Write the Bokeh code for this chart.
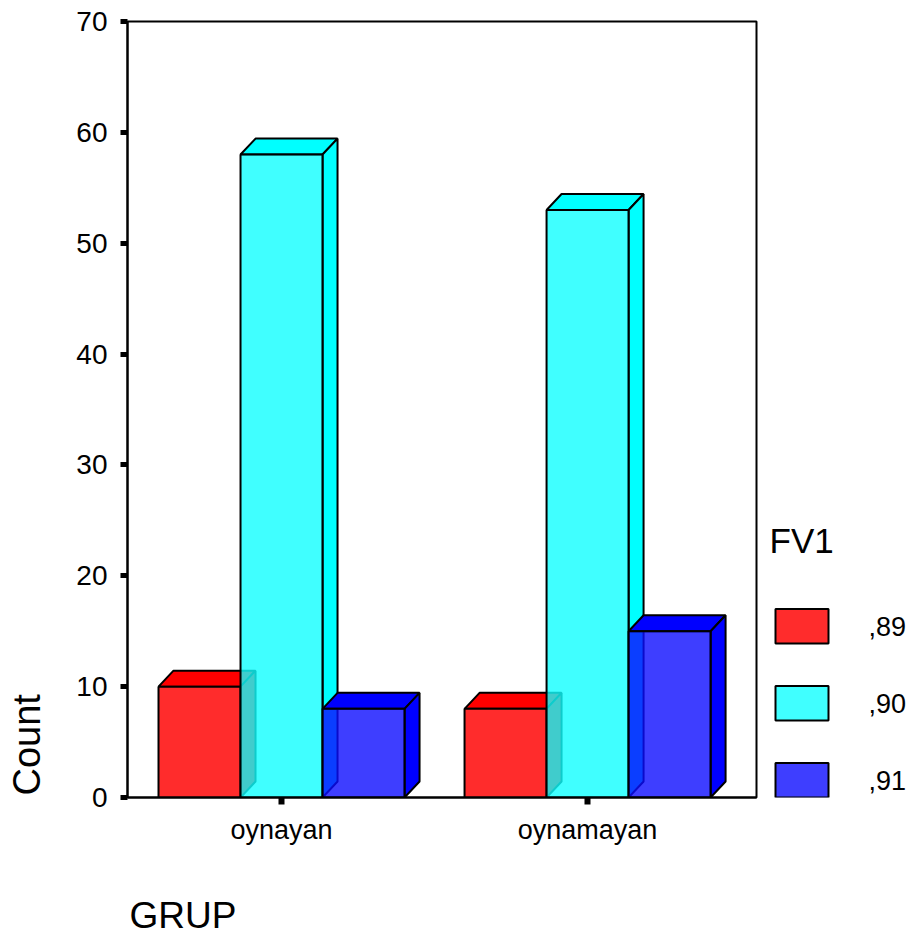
import math
from bokeh.plotting import figure
from bokeh.layouts import row
from bokeh.models import Range1d, FixedTicker, Title
from bokeh.core.properties import value
from bokeh.embed import file_html
from bokeh.resources import INLINE

# ---------------- data ----------------
categories = ["oynayan", "oynamayan"]
legend_title = "FV1"
series_labels = [",89", ",90", ",91"]
counts_89 = [10, 8]
counts_90 = [58, 53]
counts_91 = [8, 15]
y_ticks = [0, 10, 20, 30, 40, 50, 60, 70]
x_title = "GRUP"
y_title = "Count"

# ---------------- styling / layout ----------------
W, H = 914, 936
MAIN_W = 770
FL, FR, FT, FB = 127, 756, 21, 797          # frame edges in px
X0, X1 = 0.4967, 2.552
Y0, Y1 = 0, 70
FONT = "Liberation Sans"

legend_colors = ["#FF2C2C", "#40FFFF", "#3E3EFF"]
front_colors = ["#FF2C2C", "#10FFFF", "#0E0EFF"]
depth_colors = ["#FF0000", "#00FFFF", "#0000FF"]
front_alpha = [1.0, 0.8, 0.8]
bar_w = 0.268
dx, dy = 0.049, 1.44

p = figure(width=MAIN_W, height=H, output_backend="svg", toolbar_location=None, tools="",
           x_range=Range1d(X0, X1), y_range=Range1d(Y0, Y1),
           min_border_left=FL, min_border_right=MAIN_W - FR,
           min_border_top=FT, min_border_bottom=H - FB)
p.background_fill_color = "white"
p.border_fill_color = "white"
p.outline_line_color = "black"
p.outline_line_width = 2
p.outline_line_alpha = 1.0
p.grid.visible = False

# ---------------- bars (3D look) ----------------
offsets = [-bar_w, 0.0, bar_w]
all_series = [counts_89, counts_90, counts_91]
for k, vals in enumerate(all_series):
    xl = [i + 1 + offsets[k] - bar_w / 2 for i in range(len(categories))]
    xr = [x + bar_w for x in xl]
    top_xs = [[l, l + dx, r + dx, r] for l, r in zip(xl, xr)]
    top_ys = [[v, v + dy, v + dy, v] for v in vals]
    side_xs = [[r, r + dx, r + dx, r] for r in xr]
    side_ys = [[0, dy, v + dy, v] for v in vals]
    p.patches(top_xs + side_xs, top_ys + side_ys, fill_color=depth_colors[k],
              line_color="black", line_width=2)
    p.quad(left=xl, right=xr, bottom=[0] * len(vals), top=vals,
           fill_color=front_colors[k], fill_alpha=front_alpha[k],
           line_color="black", line_width=2)

# ---------------- axes ----------------
p.yaxis.ticker = FixedTicker(ticks=y_ticks)
p.xaxis.ticker = FixedTicker(ticks=[i + 1 for i in range(len(categories))])
p.xaxis.major_label_overrides = {i + 1: c for i, c in enumerate(categories)}
for ax in (p.xaxis, p.yaxis):
    ax.axis_line_color = "black"
    ax.axis_line_width = 2
    ax.major_tick_line_color = "black"
    ax.major_tick_in = 0
    ax.minor_tick_line_color = None
    ax.major_label_text_font = FONT
    ax.major_label_text_color = "black"
p.yaxis.major_tick_out = 7
p.yaxis.major_tick_line_width = 5
p.yaxis.major_label_standoff = 13
p.yaxis.major_label_text_font_size = "28px"
p.xaxis.major_tick_out = 7
p.xaxis.major_tick_line_width = 6
p.xaxis.major_label_standoff = 10
p.xaxis.major_label_text_font_size = "27px"

# ---------------- axis titles (with thin spacers between axis and title) ----------------
p.add_layout(Title(text=" ", text_font_size="1px", standoff=22), "left")
p.add_layout(Title(text=y_title, align="left", text_font=FONT, text_font_size="38px",
                   text_font_style="normal", text_color="black", standoff=2, offset=2), "left")
p.add_layout(Title(text=" ", text_font_size="1px", standoff=42), "below")
p.add_layout(Title(text=x_title, align="left", text_font=FONT, text_font_size="37px",
                   text_font_style="normal", text_color="black", standoff=0, offset=2), "below")

# ---------------- legend (separate panel, y measured in px from top) ----------------
LW = W - MAIN_W
lg = figure(width=LW, height=H, output_backend="svg", toolbar_location=None, tools="",
            x_range=Range1d(MAIN_W, W), y_range=Range1d(FB, FT),
            x_axis_location=None, y_axis_location=None,
            min_border_left=0, min_border_right=0,
            min_border_top=FT, min_border_bottom=H - FB)
lg.outline_line_color = None
lg.grid.visible = False
lg.background_fill_color = "white"
lg.border_fill_color = "white"

SW_L, SW_R, SW_TOP0, SW_H, SW_STEP = 775, 828, 608.5, 34.5, 77
LAB_X = 868
n = len(series_labels)
sw_top = [SW_TOP0 + k * SW_STEP for k in range(n)]
sw_bot = [t + SW_H for t in sw_top]
lg.quad(left=[SW_L] * n, right=[SW_R] * n, top=sw_top, bottom=sw_bot,
        fill_color=legend_colors, line_color="black", line_width=2)
lg.text(x=[LAB_X] * n, y=[t + SW_H / 2 for t in sw_top], text=series_labels,
        text_baseline="middle", text_align="left",
        text_font=value(FONT), text_font_size=value("27px"), text_color="black")
lg.text(x=[769], y=[540], text=[legend_title], text_baseline="middle", text_align="left",
        text_font=value(FONT), text_font_size=value("35px"), text_color="black")

layout = row(p, lg, spacing=0)
open("out.html", "w").write(file_html(layout, INLINE))
